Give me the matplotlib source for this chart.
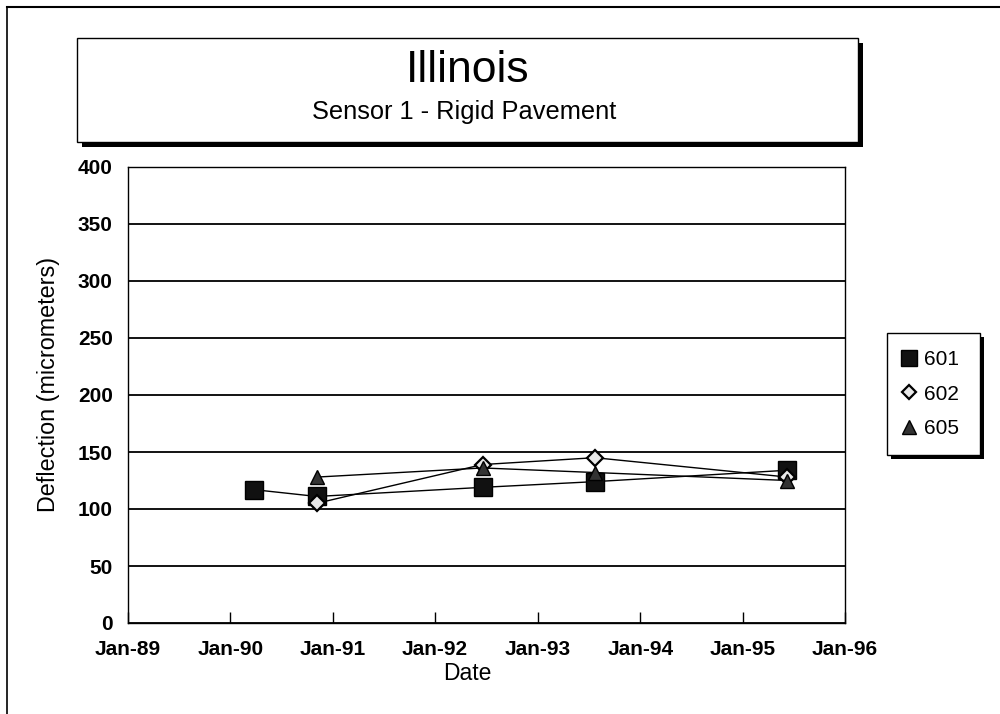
import matplotlib
matplotlib.use("Agg")
import matplotlib.pyplot as plt
import matplotlib.dates as mdates
from matplotlib.patches import Rectangle
from matplotlib.lines import Line2D
import numpy as np

plt.rcParams['font.family'] = ['Liberation Sans', 'DejaVu Sans']

# ---- data ----
dates_601 = ["1990-03-25", "1990-11-05", "1992-06-18", "1993-07-23", "1995-06-10"]
vals_601 = [117, 111, 119, 124, 134]
dates_602 = ["1990-11-05", "1992-06-18", "1993-07-23", "1995-06-10"]
vals_602 = [105, 139, 145, 128]
dates_605 = ["1990-11-05", "1992-06-18", "1993-07-23", "1995-06-10"]
vals_605 = [128, 136, 132, 125]
series_names = ["601", "602", "605"]
x_tick_dates = ["1989-01-01", "1990-01-01", "1991-01-01", "1992-01-01",
                "1993-01-01", "1994-01-01", "1995-01-01", "1996-01-01"]
y_ticks = [0, 50, 100, 150, 200, 250, 300, 350, 400]
title = "Illinois"
subtitle = "Sensor 1 - Rigid Pavement"
xlabel = "Date"
ylabel = "Deflection (micrometers)"

fig = plt.figure(figsize=(10, 7.14), dpi=100)
W, H = 1000, 714

def fx(px):
    return px / W

def fy(py):
    return 1 - py / H

# outer frame (left and top lines)
fig.add_artist(Line2D([fx(7), fx(7)], [fy(7), 0], color='black', lw=1.2))
fig.add_artist(Line2D([fx(7), 1.0], [fy(7), fy(7)], color='black', lw=1.5))

# title box with shadow
bx0, bx1, by0, by1 = 77, 858, 38, 142
fig.add_artist(Rectangle((fx(bx0 + 5), fy(by1 + 5)), fx(bx1 - bx0), fy(by0) - fy(by1),
                         transform=fig.transFigure, facecolor='black', edgecolor='none', zorder=1))
fig.add_artist(Rectangle((fx(bx0), fy(by1)), fx(bx1 - bx0), fy(by0) - fy(by1),
                         transform=fig.transFigure, facecolor='white', edgecolor='black', lw=1.0, zorder=2))
fig.text(fx(468), fy(70), title, ha='center', va='center', fontsize=32, zorder=3)
fig.text(fx(464), fy(112), subtitle, ha='center', va='center', fontsize=18.3, zorder=3)

# axes
ax = fig.add_axes([fx(128), fy(623), fx(845 - 128), fy(167) - fy(623)])
d601 = mdates.datestr2num(dates_601)
d602 = mdates.datestr2num(dates_602)
d605 = mdates.datestr2num(dates_605)
ax.plot(d601, vals_601, color='black', lw=1.0, marker='s', markersize=12.5,
        markerfacecolor='#111111', markeredgecolor='black', label=series_names[0], zorder=3)
ax.plot(d602, vals_602, color='black', lw=1.0, marker='D', markersize=8,
        markerfacecolor='#e8e8e8', markeredgecolor='black', markeredgewidth=1.6,
        label=series_names[1], zorder=4)
ax.plot(d605, vals_605, color='black', lw=1.0, marker='^', markersize=10,
        markerfacecolor='#333333', markeredgecolor='black', label=series_names[2], zorder=5)

xt = mdates.datestr2num(x_tick_dates)
ax.set_xlim(xt[0], xt[-1])
ax.set_ylim(0, 400)
ax.set_xticks(xt)
ax.xaxis.set_major_formatter(mdates.DateFormatter('%b-%y'))
ax.set_yticks(y_ticks)
ax.tick_params(axis='x', direction='in', length=8, width=1, pad=12, labelsize=15)
ax.tick_params(axis='y', length=0, pad=11, labelsize=15)
for lab in ax.get_xticklabels() + ax.get_yticklabels():
    lab.set_fontweight('bold')
ax.grid(axis='y', color='black', lw=1.3)
ax.set_axisbelow(True)
for s in ax.spines.values():
    s.set_linewidth(1.0)
ax.set_xlabel(xlabel, fontsize=16.5)
ax.xaxis.set_label_coords((467 - 128) / 717, -(673 - 623) / 456)
ax.xaxis.label.set_va('center')
ax.set_ylabel(ylabel, fontsize=16.8)
ax.yaxis.set_label_coords((49 - 128) / 717, (623 - 384) / 456)
ax.yaxis.label.set_va('center')

# legend
lx0, lx1, ly0, ly1 = 887, 980, 333, 455
fig.add_artist(Rectangle((fx(lx0 + 4), fy(ly1 + 4)), fx(lx1 - lx0), fy(ly0) - fy(ly1),
                         transform=fig.transFigure, facecolor='black', edgecolor='none', zorder=1))
fig.add_artist(Rectangle((fx(lx0), fy(ly1)), fx(lx1 - lx0), fy(ly0) - fy(ly1),
                         transform=fig.transFigure, facecolor='white', edgecolor='black', lw=1.0, zorder=2))
handles, labels = ax.get_legend_handles_labels()
leg_handles = [Line2D([], [], linestyle='none', marker=h.get_marker(),
                      markersize=h.get_markersize() * 0.95,
                      markerfacecolor=h.get_markerfacecolor(),
                      markeredgecolor='black', markeredgewidth=h.get_markeredgewidth())
               for h in handles]
leg = fig.legend(leg_handles, labels, loc='center', bbox_to_anchor=(fx(930), fy(394)),
                 frameon=False, fontsize=15, handlelength=0.8, handletextpad=0.35,
                 labelspacing=0.75, borderpad=0, borderaxespad=0)
leg.set_zorder(5)

fig.savefig("out.png", dpi=100)
